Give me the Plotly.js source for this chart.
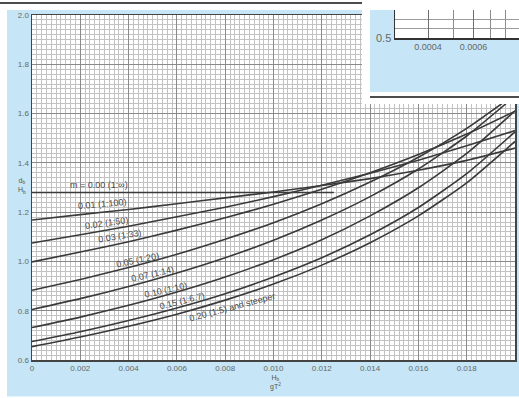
<!DOCTYPE html>
<html>
<head>
<meta charset="utf-8">
<script src="https://cdn.plot.ly/plotly-3.0.1.min.js"></script>
<style>html,body{margin:0;padding:0;background:#fff}#chart{width:519px;height:398px}</style>
</head>
<body>
<div id="chart"></div>
<script>
// ---- data ----
const steepness = [0, 0.002, 0.004, 0.006, 0.008, 0.010, 0.012, 0.014, 0.016, 0.018, 0.020];
const flatX = [0, 0.0125];
const flatY = [1.28, 1.28];
const m001 = [1.168, 1.190, 1.211, 1.234, 1.258, 1.282, 1.308, 1.336, 1.370, 1.410, 1.460];
const m002 = [1.075, 1.108, 1.143, 1.181, 1.220, 1.263, 1.309, 1.358, 1.411, 1.469, 1.531];
const m003 = [0.998, 1.038, 1.080, 1.127, 1.177, 1.232, 1.293, 1.360, 1.434, 1.517, 1.610];
const m005 = [0.883, 0.927, 0.975, 1.029, 1.090, 1.157, 1.234, 1.322, 1.423, 1.540, 1.679];
const m007 = [0.805, 0.849, 0.898, 0.953, 1.015, 1.086, 1.168, 1.263, 1.375, 1.509, 1.671];
const m010 = [0.732, 0.774, 0.822, 0.876, 0.937, 1.007, 1.088, 1.185, 1.299, 1.438, 1.611];
const m015 = [0.675, 0.715, 0.760, 0.811, 0.869, 0.937, 1.015, 1.108, 1.219, 1.356, 1.526];
const m020 = [0.654, 0.693, 0.737, 0.786, 0.843, 0.908, 0.985, 1.076, 1.185, 1.319, 1.487];
const curveLabels = ['m = 0.00 (1:∞)', '0.01 (1:100)', '0.02 (1:50)', '0.03 (1:33)', '0.05 (1:20)',
                     '0.07 (1:14)', '0.10 (1:10)', '0.15 (1:6.7)', '0.20 (1:5) and steeper'];
const xTickVals = [0, 0.002, 0.004, 0.006, 0.008, 0.010, 0.012, 0.014, 0.016, 0.018, 0.020];
const xTickText = ['0', '0.002', '0.004', '0.006', '0.008', '0.010', '0.012', '0.014', '0.016', '0.018', '0.020'];
const yTickVals = [0.6, 0.8, 1.0, 1.2, 1.4, 1.6, 1.8, 2.0];
const yTickText = ['0.6', '0.8', '1.0', '1.2', '1.4', '1.6', '1.8', '2.0'];
const insetTickVals = [0.0004, 0.0006];
const insetTickText = ['0.0004', '0.0006'];
const insetOtherLines = [0.0003, 0.0005, 0.0007, 0.0008, 0.0009];

// ---- drawing ----
const W = 519, H = 398;
const px = v => v / W, py = v => (H - v) / H;
const lineStyle = {color:'#3a3a3a', width:1.6, shape:'spline', smoothing:0.6};
const series = [m001, m002, m003, m005, m007, m010, m015, m020];
const traces = [{x:flatX, y:flatY, mode:'lines', line:{color:'#3a3a3a', width:1.6}, hoverinfo:'skip'}];
series.forEach(s => traces.push({x:steepness, y:s, mode:'lines', line:lineStyle, hoverinfo:'skip'}));
traces.push({x:[0.5], y:[0.5], xaxis:'x2', yaxis:'y2', mode:'markers', marker:{opacity:0}, hoverinfo:'skip'});
traces.push({x:[0.0005], y:[0.55], xaxis:'x3', yaxis:'y3', mode:'markers', marker:{opacity:0}, hoverinfo:'skip'});

const fam = 'Liberation Sans, Arial, sans-serif';
const labelPos = [
  [0.00277, 1.312, 0], [0.0029, 1.232, -5], [0.0031, 1.155, -8], [0.00364, 1.105, -9],
  [0.00439, 1.004, -12], [0.0050, 0.947, -13], [0.00555, 0.886, -13], [0.00621, 0.841, -14],
  [0.00832, 0.815, -15]
];
const annotations = curveLabels.map((t, i) => ({
  x: labelPos[i][0], y: labelPos[i][1], xref:'x', yref:'y', text:t, showarrow:false,
  textangle: labelPos[i][2], font:{family:fam, size:9, color:'#4a4a4a'}
}));
annotations.push({x:px(16), y:py(186), xref:'paper', yref:'paper', text:'d<sub>b</sub><br>H<sub>b</sub>',
  showarrow:false, font:{family:fam, size:7, color:'#555'}});
annotations.push({x:px(275), y:py(372), xref:'paper', yref:'paper', yanchor:'top', text:'H<sub>b</sub><br>gT<sup>2</sup>',
  showarrow:false, font:{family:fam, size:7, color:'#555'}});
annotations.push({x:px(517), y:py(47), xref:'paper', yref:'paper', xanchor:'left', text:'0.001',
  showarrow:false, font:{family:fam, size:9, color:'#666'}});

const shapes = [
  {type:'rect', xref:'paper', yref:'paper', x0:px(0), x1:px(7), y0:0, y1:1, fillcolor:'#ffffff', line:{width:0}},
  {type:'rect', xref:'paper', yref:'paper', x0:px(0), x1:px(519), y0:py(10), y1:1, fillcolor:'#ffffff', line:{width:0}},
  {type:'rect', xref:'paper', yref:'paper', x0:px(0), x1:px(519), y0:0, y1:py(396.5), fillcolor:'#ffffff', line:{width:0}},
  {type:'line', xref:'paper', yref:'paper', x0:0, x1:px(362), y0:py(3), y1:py(3), line:{color:'#111', width:1.5}},
  {type:'rect', xref:'x2', yref:'y2', x0:8/157, x1:1.02, y0:12/104, y1:1.02, fillcolor:'#c6e6f7', line:{width:0}, layer:'below'},
  {type:'line', xref:'x2', yref:'y2', x0:8/157, x1:1.02, y0:7/104, y1:7/104, line:{color:'#111', width:1.5}, layer:'below'}
];

const layout = {
  width:W, height:H, margin:{l:0, r:0, t:0, b:0},
  paper_bgcolor:'#c6e6f7', plot_bgcolor:'#ffffff', showlegend:false,
  font:{family:fam},
  xaxis:{domain:[px(32), px(515)], range:[0, 0.020], tickmode:'array', tickvals:xTickVals, ticktext:xTickText,
    showgrid:true, gridcolor:'#8a8a8a', gridwidth:1, zeroline:false,
    minor:{tickmode:'linear', tick0:0, dtick:0.0002, showgrid:true, gridcolor:'#c2c2c2', gridwidth:1},
    showline:true, mirror:true, linecolor:'#444', linewidth:1.5, ticks:'',
    tickfont:{size:8, color:'#666'}, anchor:'y', fixedrange:true},
  yaxis:{domain:[1 - 360/H, 1 - 15/H], range:[0.6, 2.0], tickmode:'array', tickvals:yTickVals, ticktext:yTickText,
    showgrid:true, gridcolor:'#8a8a8a', gridwidth:1, zeroline:false,
    minor:{tickmode:'linear', tick0:0.6, dtick:0.02, showgrid:true, gridcolor:'#c2c2c2', gridwidth:1},
    showline:true, mirror:true, linecolor:'#444', linewidth:1.5, ticks:'',
    tickfont:{size:8, color:'#666'}, anchor:'x', fixedrange:true},
  xaxis2:{domain:[px(362), 1], range:[0, 1], visible:false, anchor:'y2', fixedrange:true},
  yaxis2:{domain:[py(104), 1], range:[0, 1], visible:false, anchor:'x2', fixedrange:true},
  xaxis3:{domain:[px(395), 1], type:'log', range:[-3.526, -3.045], tickmode:'array',
    tickvals:insetTickVals, ticktext:insetTickText, showgrid:true, gridcolor:'#6e6e6e', gridwidth:1,
    minor:{tickmode:'array', tickvals:insetOtherLines, showgrid:true, gridcolor:'#8a8a8a', gridwidth:1},
    showline:true, linecolor:'#333', linewidth:1.5, ticks:'', zeroline:false,
    tickfont:{size:9, color:'#666'}, anchor:'y3', fixedrange:true},
  yaxis3:{domain:[py(38), 1], range:[0.5, 0.6], tickmode:'array', tickvals:[0.5], ticktext:['0.5'],
    showgrid:false, zeroline:false,
    minor:{tickmode:'linear', tick0:0.5, dtick:0.025, showgrid:true, gridcolor:'#9a9a9a', gridwidth:1},
    showline:true, linecolor:'#333', linewidth:1.5, ticks:'',
    tickfont:{size:11, color:'#666'}, anchor:'x3', fixedrange:true},
  shapes:shapes,
  annotations:annotations
};

Plotly.newPlot('chart', traces, layout, {staticPlot:true, displayModeBar:false});
</script>
</body>
</html>
